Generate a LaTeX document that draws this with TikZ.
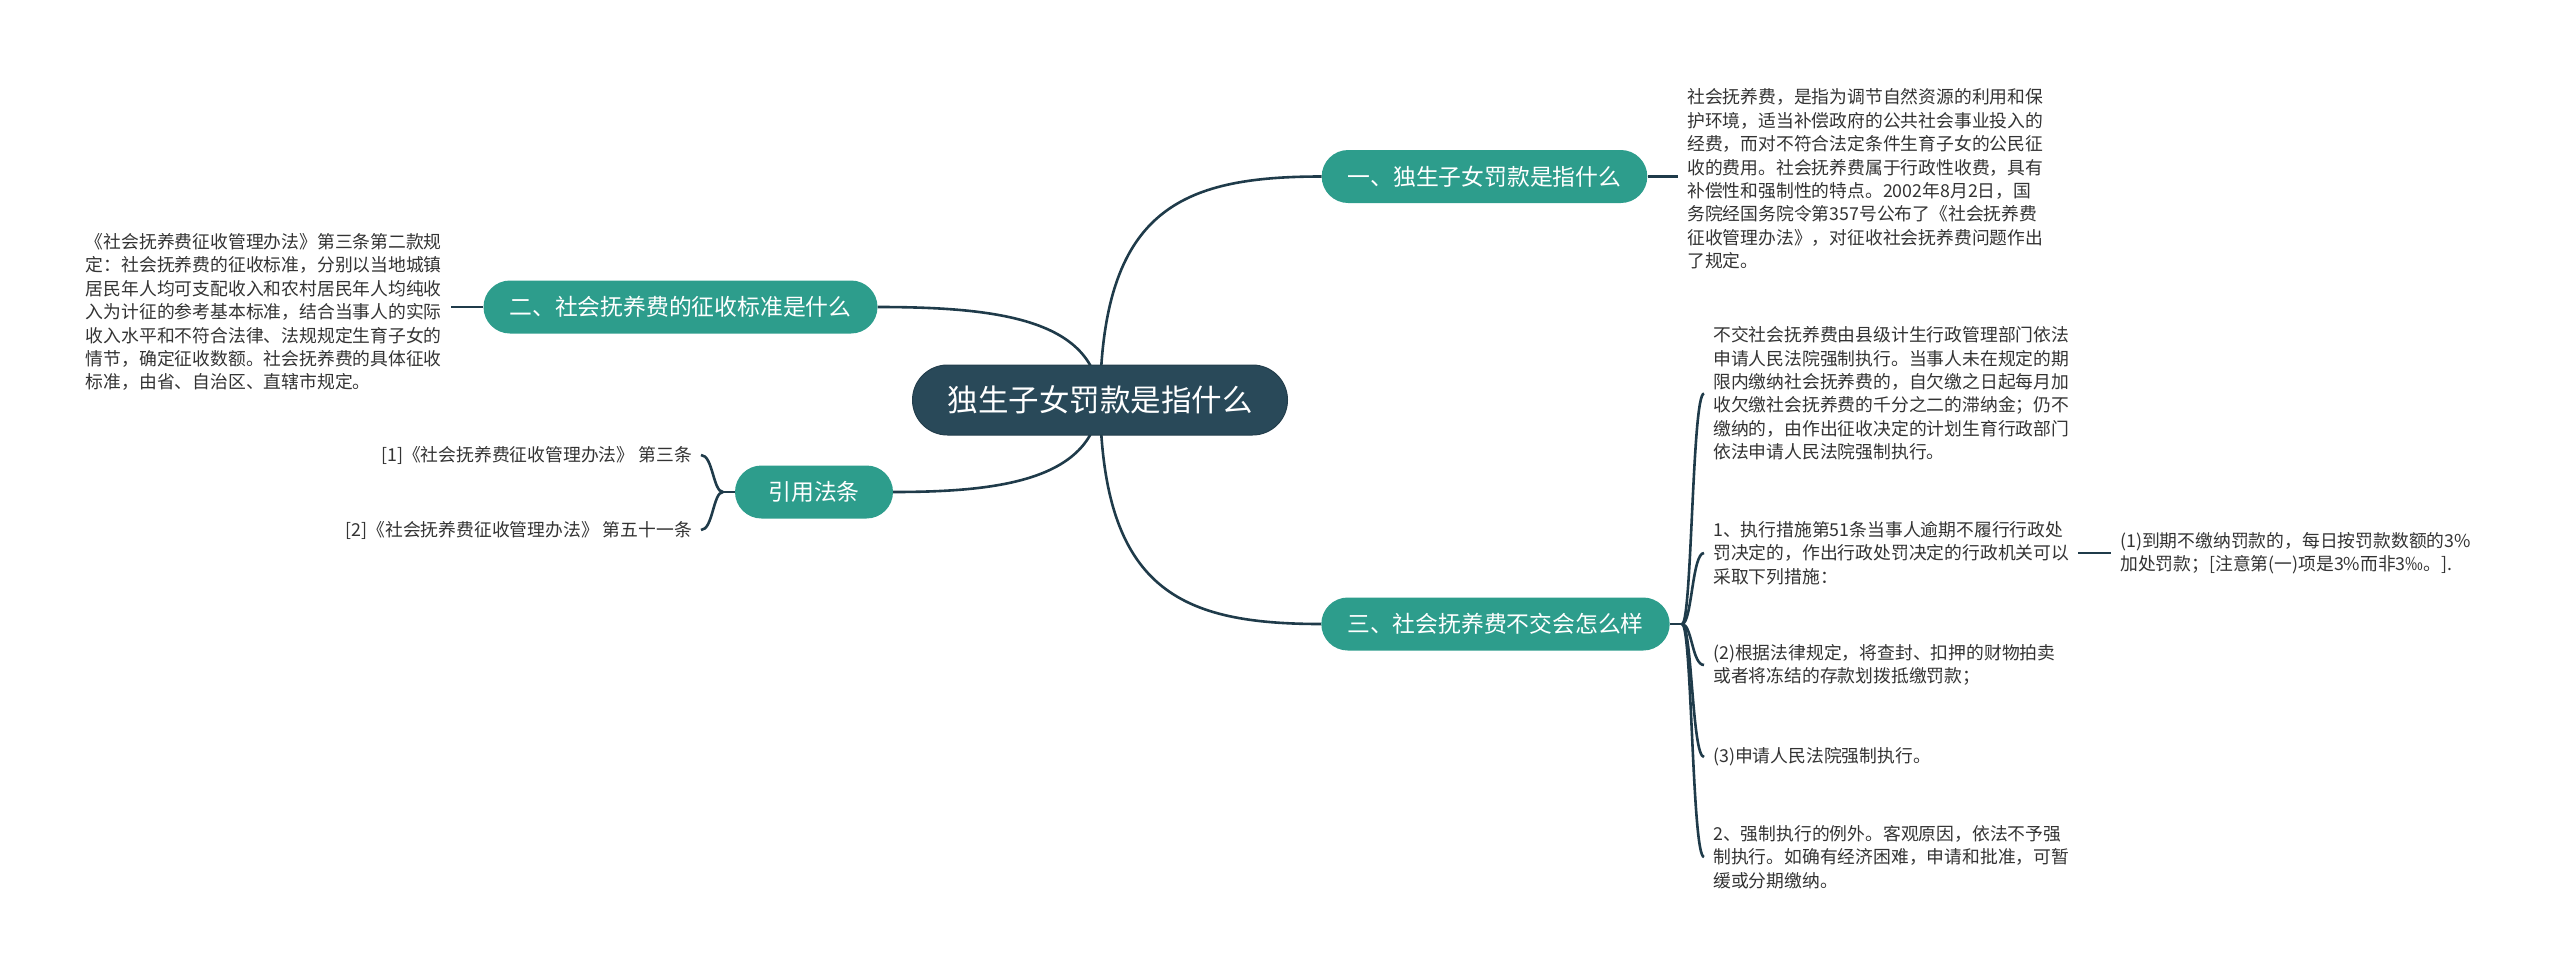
\documentclass[tikz,border=0pt]{standalone}
\usepackage{fontspec}
\newfontfamily\cjk{Noto Sans CJK SC}
\usetikzlibrary{backgrounds}
\definecolor{rootc}{HTML}{294959}
\definecolor{brc}{HTML}{2D9D8C}
\definecolor{linec}{HTML}{1F3B4A}
\definecolor{txtc}{HTML}{333333}
\begin{document}
\begin{tikzpicture}[x=1pt,y=-1pt,
  rootnode/.style={fill=rootc, draw=rootc!85!black, line width=1pt, rounded corners=35pt,
    minimum height=70pt, inner xsep=35pt, text=white, font=\cjk\fontsize{30.5}{36}\selectfont},
  branchnode/.style={fill=brc, rounded corners=26.5pt, minimum height=53pt, inner xsep=26pt,
    text=white, font=\cjk\fontsize{22.8}{28}\selectfont},
  leaf/.style={inner xsep=9pt, inner ysep=0pt, align=left, text=txtc,
    font=\cjk\fontsize{17.8}{23.4}\selectfont},
  conn/.style={draw=linec, line width=2.6pt}]
\useasboundingbox (0,0) rectangle (2560,975);

\node[rootnode] (root) at (1100,400) {独生子女罚款是指什么};
\node[branchnode] (b1) at (1484.5,176.5) {一、独生子女罚款是指什么};
\node[branchnode] (b2) at (680.5,307) {二、社会抚养费的征收标准是什么};
\node[branchnode] (b3) at (1495.5,624) {三、社会抚养费不交会怎么样};
\node[branchnode, minimum width=158pt] (b4) at (814,492) {引用法条};

\node[leaf, anchor=west] (t1) at (1678,179) {社会抚养费，是指为调节自然资源的利用和保\\
护环境，适当补偿政府的公共社会事业投入的\\
经费，而对不符合法定条件生育子女的公民征\\
收的费用。社会抚养费属于行政性收费，具有\\
补偿性和强制性的特点。2002年8月2日，国\\
务院经国务院令第357号公布了《社会抚养费\\
征收管理办法》，对征收社会抚养费问题作出\\
了规定。};

\node[leaf, anchor=east] (t2) at (451,312) {《社会抚养费征收管理办法》第三条第二款规\\
定：社会抚养费的征收标准，分别以当地城镇\\
居民年人均可支配收入和农村居民年人均纯收\\
入为计征的参考基本标准，结合当事人的实际\\
收入水平和不符合法律、法规规定生育子女的\\
情节，确定征收数额。社会抚养费的具体征收\\
标准，由省、自治区、直辖市规定。};

\node[leaf, anchor=east] (c1) at (701,455) {[1]《社会抚养费征收管理办法》 第三条};
\node[leaf, anchor=east] (c2) at (701,530) {[2]《社会抚养费征收管理办法》 第五十一条};

\node[leaf, anchor=west] (k1) at (1704,393.5) {不交社会抚养费由县级计生行政管理部门依法\\
申请人民法院强制执行。当事人未在规定的期\\
限内缴纳社会抚养费的，自欠缴之日起每月加\\
收欠缴社会抚养费的千分之二的滞纳金；仍不\\
缴纳的，由作出征收决定的计划生育行政部门\\
依法申请人民法院强制执行。};
\node[leaf, anchor=west] (k2) at (1704,553) {1、执行措施第51条当事人逾期不履行行政处\\
罚决定的，作出行政处罚决定的行政机关可以\\
采取下列措施：};
\node[leaf, anchor=west] (k3) at (1704,665) {(2)根据法律规定，将查封、扣押的财物拍卖\\
或者将冻结的存款划拨抵缴罚款；};
\node[leaf, anchor=west] (k4) at (1704,757) {(3)申请人民法院强制执行。};
\node[leaf, anchor=west] (k5) at (1704,857) {2、强制执行的例外。客观原因，依法不予强\\
制执行。如确有经济困难，申请和批准，可暂\\
缓或分期缴纳。};
\node[leaf, anchor=west] (g1) at (2111,553.5) {(1)到期不缴纳罚款的，每日按罚款数额的3\%\\
加处罚款；[注意第(一)项是3\%而非3‰。].};

\coordinate (jr) at (723,492);
\coordinate (j3) at (1682,624);

\begin{scope}[on background layer]
\draw[conn] (root.center) .. controls (1102,210) and (1180,176.5) .. (b1.west);
\draw[conn] (root.center) .. controls (1095,320) and (1000,307) .. (b2.east);
\draw[conn] (root.center) .. controls (1102,590) and (1180,624) .. (b3.west);
\draw[conn] (root.center) .. controls (1095,480) and (1000,492) .. (b4.east);
\draw[conn] (b1.east) -- (b1.east -| t1.west);
\draw[conn] (b2.west) -- (b2.west -| t2.east);
\draw[conn] (b4.west) -- (jr);
\draw[conn] (jr) .. controls (713,492) and (713,455) .. (c1.east);
\draw[conn] (jr) .. controls (713,492) and (713,530) .. (c2.east);
\draw[conn] (b3.east) -- (j3);
\draw[conn] (j3) .. controls (1692,624) and (1692,393.5) .. (k1.west);
\draw[conn] (j3) .. controls (1692,624) and (1692,553) .. (k2.west);
\draw[conn] (j3) .. controls (1692,624) and (1692,665) .. (k3.west);
\draw[conn] (j3) .. controls (1692,624) and (1692,757) .. (k4.west);
\draw[conn] (j3) .. controls (1692,624) and (1692,857) .. (k5.west);
\draw[conn] (k2.east) -- (k2.east -| g1.west);
\end{scope}
\end{tikzpicture}
\end{document}
